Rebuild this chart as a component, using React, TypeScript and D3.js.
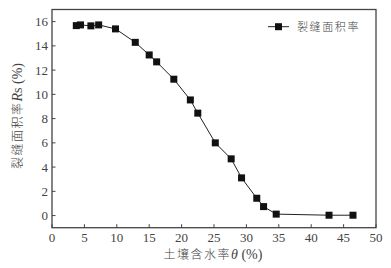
import React from "react";
import * as d3 from "d3";

const waterContent = [3.75, 4.4, 6.0, 7.2, 9.8, 12.85, 15.0, 16.15, 18.8, 21.35, 22.5, 25.2, 27.65, 29.25, 31.6, 32.65, 34.6, 42.75, 46.45];
const crackRatio = [15.67, 15.73, 15.65, 15.73, 15.4, 14.29, 13.25, 12.68, 11.25, 9.54, 8.45, 6.0, 4.68, 3.11, 1.43, 0.74, 0.12, 0.03, 0.03];
const xTicks = [0, 5, 10, 15, 20, 25, 30, 35, 40, 45, 50];
const yTicks = [0, 2, 4, 6, 8, 10, 12, 14, 16];
const seriesName = "裂缝面积率";

const W = 391, H = 268;
const L = 52, R = 376, T = 9.5, B = 227.7;

export default function App() {
  const x = d3.scaleLinear().domain([0, 50]).range([L, R]);
  const y = d3.scaleLinear().domain([-1, 17]).range([B, T]);
  const pts = waterContent.map((v, i) => [v, crackRatio[i]] as [number, number]);
  const line = d3.line<[number, number]>().x(d => x(d[0])).y(d => y(d[1]))(pts) || "";
  const serif = "'Liberation Serif', 'DejaVu Serif', serif";
  const cjk = "'Noto Sans CJK SC', sans-serif";
  const axisColor = "#444";
  const textColor = "#444";
  return (
    <svg width={W} height={H} style={{ position: "absolute", left: 0, top: 0, background: "#fff" }}>
      <rect x={0} y={0} width={W} height={H} fill="#fff" />
      <rect x={L} y={T} width={R - L} height={B - T} fill="none" stroke={axisColor} strokeWidth={1.3} />
      {xTicks.map(t => (
        <g key={"x" + t}>
          <line x1={x(t)} x2={x(t)} y1={B} y2={B - 3.5} stroke={axisColor} strokeWidth={1} />
          <text x={x(t)} y={B + 14} fontSize={13} fontFamily={serif} textAnchor="middle" fill={textColor}>{t}</text>
        </g>
      ))}
      {yTicks.map(t => (
        <g key={"y" + t}>
          <line x1={L} x2={L + 3.5} y1={y(t)} y2={y(t)} stroke={axisColor} strokeWidth={1} />
          <text x={L - 4} y={y(t) + 4.5} fontSize={13} fontFamily={serif} textAnchor="end" fill={textColor}>{t}</text>
        </g>
      ))}
      <path d={line} fill="none" stroke="#222" strokeWidth={1} />
      {pts.map((p, i) => (
        <rect key={i} x={x(p[0]) - 3.5} y={y(p[1]) - 3.5} width={7} height={7} fill="#111" />
      ))}
      <line x1={268} x2={289} y1={26.7} y2={26.7} stroke="#222" strokeWidth={1} />
      <rect x={275} y={23.2} width={7} height={7} fill="#111" />
      <text x={297} y={31} fontSize={11} fontFamily={cjk} fontWeight={300} letterSpacing={1.6} fill={textColor}>{seriesName}</text>
      <text x={213} y={259} fontSize={12} textAnchor="middle" fill={textColor}>
        <tspan fontFamily={cjk} fontWeight={300} letterSpacing={1.5}>土壤含水率</tspan>
        <tspan fontFamily={serif} fontStyle="italic" fontSize={14}>θ</tspan>
        <tspan fontFamily={serif} fontSize={14}> (%)</tspan>
      </text>
      <text transform={`translate(22,${116}) rotate(-90)`} fontSize={12} textAnchor="middle" fill={textColor}>
        <tspan fontFamily={cjk} fontWeight={300} letterSpacing={1.5}>裂缝面积率</tspan>
        <tspan fontFamily={serif} fontStyle="italic" fontSize={14}>R</tspan>
        <tspan fontFamily={serif} fontSize={14}>s (%)</tspan>
      </text>
    </svg>
  );
}
